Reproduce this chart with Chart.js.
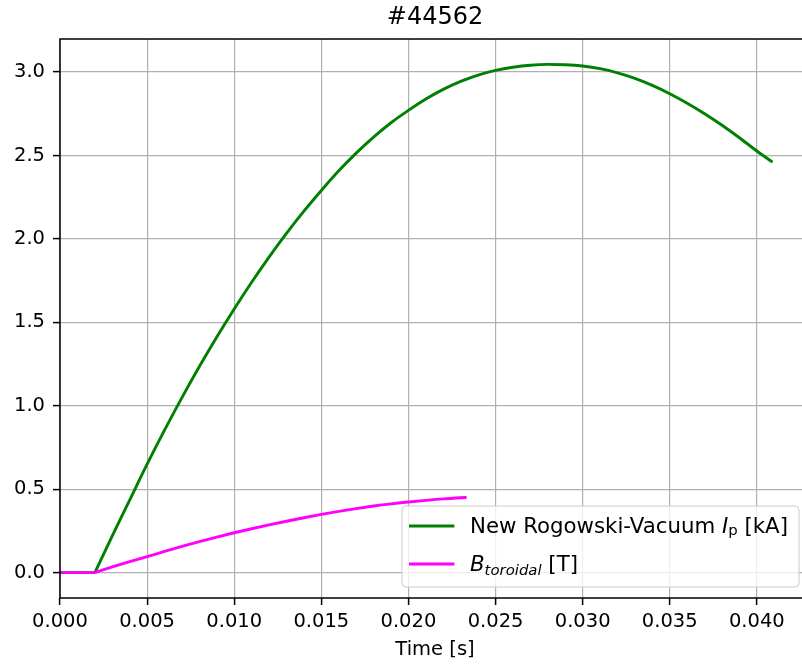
<!DOCTYPE html>
<html>
<head>
<meta charset="utf-8">
<script src="https://cdn.jsdelivr.net/npm/chart.js@4.4.1/dist/chart.umd.min.js"></script>
<style>
  html, body { margin: 0; padding: 0; background: #fff; overflow: hidden; }
  #wrap { width: 812px; height: 668px; }
</style>
</head>
<body>
<div id="wrap"><canvas id="shotChart"></canvas></div>
<script>
// shot #44562: plasma current (Rogowski, vacuum subtracted) and toroidal field
// both signals sit at zero until the trigger at 2 ms
var baseTime = [0, 0.001, 0.002];
var baseValues = [0, 0, 0];

var timeIp = [0.002, 0.003, 0.004, 0.005, 0.006, 0.007, 0.008, 0.009, 0.010,
  0.011, 0.012, 0.013, 0.014, 0.015, 0.016, 0.017, 0.018, 0.019, 0.020, 0.021, 0.022, 0.023,
  0.024, 0.025, 0.026, 0.027, 0.028, 0.029, 0.030, 0.031, 0.032, 0.033, 0.034, 0.035, 0.036,
  0.037, 0.038, 0.039, 0.040, 0.0409];
var ipValues = [0, 0.22, 0.435, 0.65, 0.854, 1.049, 1.235, 1.412, 1.58,
  1.74, 1.891, 2.033, 2.166, 2.29, 2.408, 2.514, 2.61, 2.696, 2.77, 2.838, 2.896, 2.944,
  2.982, 3.01, 3.029, 3.041, 3.046, 3.044, 3.036, 3.02, 2.995, 2.962, 2.92, 2.87, 2.813,
  2.75, 2.681, 2.606, 2.527, 2.46];

var timeBt = [0.002, 0.003, 0.004, 0.005, 0.006, 0.007, 0.008, 0.009, 0.010,
  0.011, 0.012, 0.013, 0.014, 0.015, 0.016, 0.017, 0.018, 0.019, 0.020, 0.021, 0.022, 0.023, 0.02334];
var btValues = [0, 0.034, 0.066, 0.096, 0.127, 0.157, 0.186, 0.213, 0.239,
  0.263, 0.286, 0.308, 0.329, 0.349, 0.367, 0.384, 0.399, 0.412, 0.423, 0.433, 0.442, 0.449, 0.451];

var xTicks = [0, 0.005, 0.010, 0.015, 0.020, 0.025, 0.030, 0.035, 0.040];
var yTicks = [0.0, 0.5, 1.0, 1.5, 2.0, 2.5, 3.0];

var xRange = [0, 0.04305];
var yRange = [-0.152, 3.198];

var shotTitle = '#44562';
var ipColor = '#008000';
var btColor = '#ff00ff';

function toPoints(xs, ys) {
    return xs.map(function(t, i) { return { x: t, y: ys[i] }; });
}

var baseFont = 'DejaVu Sans';
var fs = 19.5;
var keyFs = 21.3;
Chart.defaults.color = '#000';
Chart.defaults.font.family = baseFont;
Chart.defaults.font.size = fs;

// legend entries are drawn by hand so the subscripts come out right
var keyRows = [
    { color: ipColor, parts: [
        { text: 'New Rogowski-Vacuum ', style: '', size: 1, dy: 0 },
        { text: 'I', style: 'italic ', size: 1, dy: 0 },
        { text: 'p', style: '', size: 0.7, dy: 2 },
        { text: ' [kA]', style: '', size: 1, dy: 0 }
    ]},
    { color: btColor, parts: [
        { text: 'B', style: 'italic ', size: 1, dy: 0 },
        { text: 'toroidal', style: 'italic ', size: 0.7, dy: 4 },
        { text: ' [T]', style: '', size: 1, dy: 0 }
    ]}
];

function partFont(p) {
    return p.style + (keyFs * p.size).toFixed(1) + 'px "' + baseFont + '"';
}

var frameAndKey = {
    id: 'frameAndKey',
    afterDraw: function(chart) {
        var ctx = chart.ctx, a = chart.chartArea;
        ctx.save();

        // title, centred over the axes
        ctx.fillStyle = '#000';
        ctx.font = '24px "' + baseFont + '"';
        ctx.textAlign = 'center';
        ctx.textBaseline = 'middle';
        ctx.fillText(shotTitle, (a.left + a.right) / 2, 17.5);

        // axes frame
        ctx.strokeStyle = '#000';
        ctx.lineWidth = 1.5;
        ctx.strokeRect(a.left, a.top, a.right - a.left, a.bottom - a.top);

        // legend, lower right
        var textW = 0;
        keyRows.forEach(function(row) {
            var w = 0;
            row.parts.forEach(function(p) { ctx.font = partFont(p); w += ctx.measureText(p.text).width; });
            textW = Math.max(textW, w);
        });
        var boxW = 68 + textW + 11, boxH = 81;
        var bx = a.right - 11 - boxW, by = a.bottom - 11 - boxH;

        ctx.beginPath();
        ctx.roundRect(bx, by, boxW, boxH, 4);
        ctx.fillStyle = 'rgba(255,255,255,0.8)';
        ctx.fill();
        ctx.strokeStyle = '#cccccc';
        ctx.lineWidth = 1;
        ctx.stroke();

        keyRows.forEach(function(row, i) {
            var cy = by + 20 + i * 38;
            ctx.beginPath();
            ctx.moveTo(bx + 8.5, cy);
            ctx.lineTo(bx + 51, cy);
            ctx.strokeStyle = row.color;
            ctx.lineWidth = 2.9;
            ctx.lineCap = 'square';
            ctx.stroke();

            var x = bx + 68, base = cy + 7;
            ctx.fillStyle = '#000';
            ctx.textBaseline = 'alphabetic';
            ctx.textAlign = 'left';
            row.parts.forEach(function(p) {
                ctx.font = partFont(p);
                ctx.fillText(p.text, x, base + p.dy);
                x += ctx.measureText(p.text).width;
            });
        });
        ctx.restore();
    }
};

var gridStyle = { color: '#b0b0b0', lineWidth: 1.2, tickColor: '#000', tickLength: 7, tickWidth: 1.5 };

function lineSet(label, xs, ys, color, order, smooth) {
    return {
        label: label,
        data: toPoints(xs, ys),
        borderColor: color,
        borderWidth: 2.9,
        pointRadius: 0,
        cubicInterpolationMode: smooth ? 'monotone' : 'default',
        tension: 0,
        fill: false,
        order: order
    };
}

new Chart(document.getElementById('shotChart'), {
    type: 'line',
    data: {
        datasets: [
            lineSet('New Rogowski-Vacuum Ip [kA]', timeIp, ipValues, ipColor, 1, true),
            lineSet('Ip baseline', baseTime, baseValues, ipColor, 1, false),
            lineSet('B toroidal [T]', timeBt, btValues, btColor, 0, true),
            lineSet('B baseline', baseTime, baseValues, btColor, 0, false)
        ]
    },
    options: {
        responsive: true,
        maintainAspectRatio: false,
        animation: false,
        layout: { padding: { left: 0, right: 2, top: 39, bottom: 0 } },
        plugins: {
            legend: { display: false },
            tooltip: { enabled: false },
            title: { display: false }
        },
        scales: {
            x: {
                type: 'linear',
                min: xRange[0],
                max: xRange[1],
                afterBuildTicks: function(s) { s.ticks = xTicks.map(function(v) { return { value: v }; }); },
                afterFit: function(s) { s.height = 70; },
                ticks: {
                    callback: function(v) { return v.toFixed(3); },
                    padding: 5,
                    maxRotation: 0,
                    autoSkip: false
                },
                grid: gridStyle,
                border: { display: false },
                title: { display: true, text: 'Time [s]', color: '#000', padding: { top: 0, bottom: 6 } }
            },
            y: {
                type: 'linear',
                min: yRange[0],
                max: yRange[1],
                afterBuildTicks: function(s) { s.ticks = yTicks.map(function(v) { return { value: v }; }); },
                afterFit: function(s) { s.width = 60; },
                ticks: {
                    callback: function(v) { return v.toFixed(1); },
                    padding: 8
                },
                grid: gridStyle,
                border: { display: false }
            }
        }
    },
    plugins: [frameAndKey]
});
</script>
</body>
</html>
